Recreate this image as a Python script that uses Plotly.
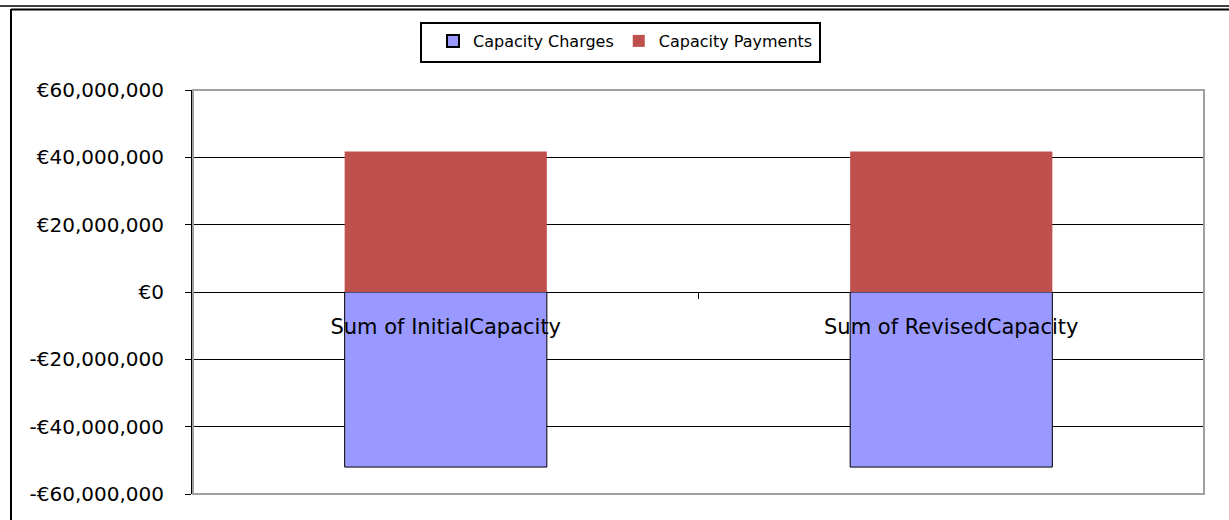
import plotly.graph_objects as go

categories = ["Sum of InitialCapacity", "Sum of RevisedCapacity"]
capacity_charges = [-52000000, -52000000]
capacity_payments = [41700000, 41700000]
y_ticks = [-60000000, -40000000, -20000000, 0, 20000000, 40000000, 60000000]
y_tick_labels = ["-€60,000,000", "-€40,000,000", "-€20,000,000", "€0",
                 "€20,000,000", "€40,000,000", "€60,000,000"]

W, H = 1229, 520
L, R, T, B = 193, 1204, 90, 494

def px(x):
    return (x - L) / (R - L)

def py(y):
    return (B - y) / (B - T)

FONT = "DejaVu Sans"

fig = go.Figure()
fig.add_trace(go.Bar(
    x=categories, y=capacity_charges, name="Capacity Charges",
    marker=dict(color="#9999FF", line=dict(color="#000000", width=1)),
))
fig.add_trace(go.Bar(
    x=categories, y=capacity_payments, name="Capacity Payments",
    marker=dict(color="#C0504D", line=dict(width=0)),
))

shapes = [
    dict(type="rect", xref="paper", yref="paper", x0=0, x1=1, y0=0, y1=1,
         line=dict(color="#A0A0A0", width=2), layer="above"),
    dict(type="line", xref="paper", yref="paper", x0=px(0), x1=px(W), y0=py(6), y1=py(6),
         line=dict(color="#000000", width=1.5)),
    dict(type="line", xref="paper", yref="paper", x0=px(11), x1=px(W), y0=py(9.5), y1=py(9.5),
         line=dict(color="#000000", width=2)),
    dict(type="line", xref="paper", yref="paper", x0=px(11), x1=px(11), y0=py(9), y1=py(H),
         line=dict(color="#000000", width=2)),
    # legend box
    dict(type="rect", xref="paper", yref="paper", x0=px(421), x1=px(820), y0=py(23), y1=py(62),
         line=dict(color="#000000", width=2), layer="below"),
]

fig.update_layout(
    width=W, height=H,
    margin=dict(l=L, r=W - R, t=T, b=H - B, autoexpand=False),
    paper_bgcolor="white", plot_bgcolor="white",
    barmode="relative", bargap=0.6,
    font=dict(family=FONT, color="#000000"),
    showlegend=True,
    legend=dict(
        orientation="h", x=px(433), y=py(24), xanchor="left", yanchor="top",
        borderwidth=0, bgcolor="rgba(0,0,0,0)",
        font=dict(family=FONT, size=16, color="#000000"),
        itemsizing="constant", traceorder="normal",
    ),
    xaxis=dict(
        anchor="free", position=0.5, showline=False, showgrid=False,
        ticks="outside", tickson="boundaries", ticklen=6, tickcolor="#000000",
        ticklabelstandoff=20,
        tickfont=dict(family=FONT, size=21, color="#000000"), zeroline=False,
        range=[-0.5, 1.5],
    ),
    yaxis=dict(
        range=[-60000000, 60000000], tickvals=y_ticks, ticktext=y_tick_labels,
        showgrid=True, gridcolor="#000000", gridwidth=1,
        showline=True, linecolor="#000000", linewidth=2,
        ticks="outside", ticklen=6, tickcolor="#000000",
        ticklabelstandoff=17,
        zeroline=True, zerolinecolor="#000000", zerolinewidth=1,
        tickfont=dict(family=FONT, size=20, color="#000000"),
    ),
    shapes=shapes,
)

fig.write_html(
    "out.html",
    config={"displayModeBar": False},
    post_script="document.body.style.margin='0';document.body.style.overflow='hidden';",
)
